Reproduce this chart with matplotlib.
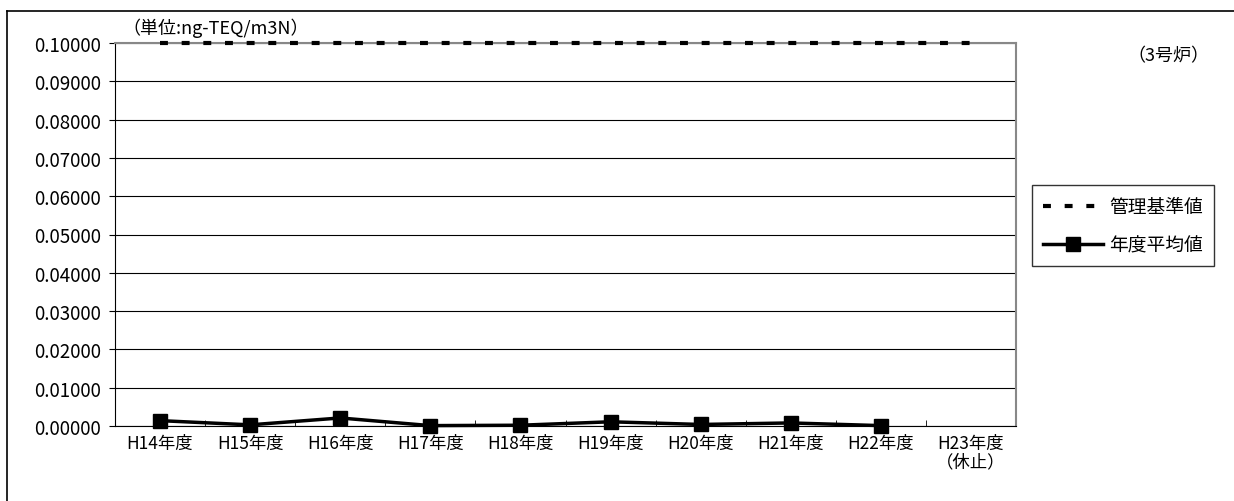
import matplotlib.pyplot as plt
from matplotlib.lines import Line2D

plt.rcParams['font.family'] = ['Noto Sans CJK JP', 'DejaVu Sans']

years = ['H14年度', 'H15年度', 'H16年度', 'H17年度', 'H18年度',
         'H19年度', 'H20年度', 'H21年度', 'H22年度', 'H23年度\n（休止）']
limit = [0.1] * 10
avg = [0.0014, 0.0003, 0.0021, 0.0001, 0.0002, 0.0011, 0.0004, 0.0008, 0.0001]

W, H = 1234, 502
fig = plt.figure(figsize=(W / 100, H / 100), dpi=100)
ax = fig.add_axes([115 / W, 1 - 427 / H, (1016 - 115) / W, (427 - 44) / H])

x = list(range(len(years)))
ax.set_xlim(-0.5, len(years) - 0.5)
ax.set_ylim(0, 0.1)
ax.set_yticks([i * 0.01 for i in range(11)])
ax.set_yticklabels(['%.5f' % (i * 0.01) for i in range(11)], fontsize=13.5)
ax.set_xticks(x)
ax.set_xticklabels(years, fontsize=12.5, linespacing=1.0)
ax.set_xticks([i + 0.5 for i in range(len(years) - 1)], minor=True)
ax.tick_params(axis='x', which='major', length=0, pad=6)
ax.tick_params(axis='x', which='minor', length=4, direction='in')
ax.tick_params(axis='y', length=4, direction='out', pad=6)
ax.grid(axis='y', color='black', linewidth=0.8)
ax.set_axisbelow(True)
for s in ['left', 'bottom']:
    ax.spines[s].set_color('black')
for s in ['top', 'right']:
    ax.spines[s].set_color('#888888')
    ax.spines[s].set_linewidth(1.5)

dash = (0, (1.9, 3.3))
ax.plot(x, limit, color='black', linewidth=3, linestyle=dash,
        clip_on=False, zorder=5)
ax.plot(x[:len(avg)], avg, color='black', linewidth=2.5, marker='s',
        markersize=10, clip_on=False, zorder=6)

handles = [Line2D([], [], color='black', linewidth=3, linestyle=dash),
           Line2D([], [], color='black', linewidth=2.5, marker='s', markersize=10)]
fig.legend(handles, ['管理基準値', '年度平均値'], loc='upper left',
           bbox_to_anchor=(1032 / W, 1 - 186 / H), fontsize=13.5,
           frameon=True, fancybox=False, edgecolor='black',
           handlelength=3.2, handletextpad=0.3, labelspacing=0.9,
           borderpad=0.6, borderaxespad=0)

fig.text(122 / W, 1 - 28 / H, '（単位:ng-TEQ/m3N）', fontsize=13,
         va='center', ha='left')
fig.text(1168 / W, 1 - 56 / H, '（3号炉）', fontsize=13,
         va='center', ha='center')

fig.add_artist(Line2D([7 / W, 1], [1 - 12 / H, 1 - 12 / H],
                      color='black', linewidth=1.2))
fig.add_artist(Line2D([7 / W, 7 / W], [0, 1 - 12 / H],
                      color='black', linewidth=1.2))

fig.savefig('out.png', dpi=100)
